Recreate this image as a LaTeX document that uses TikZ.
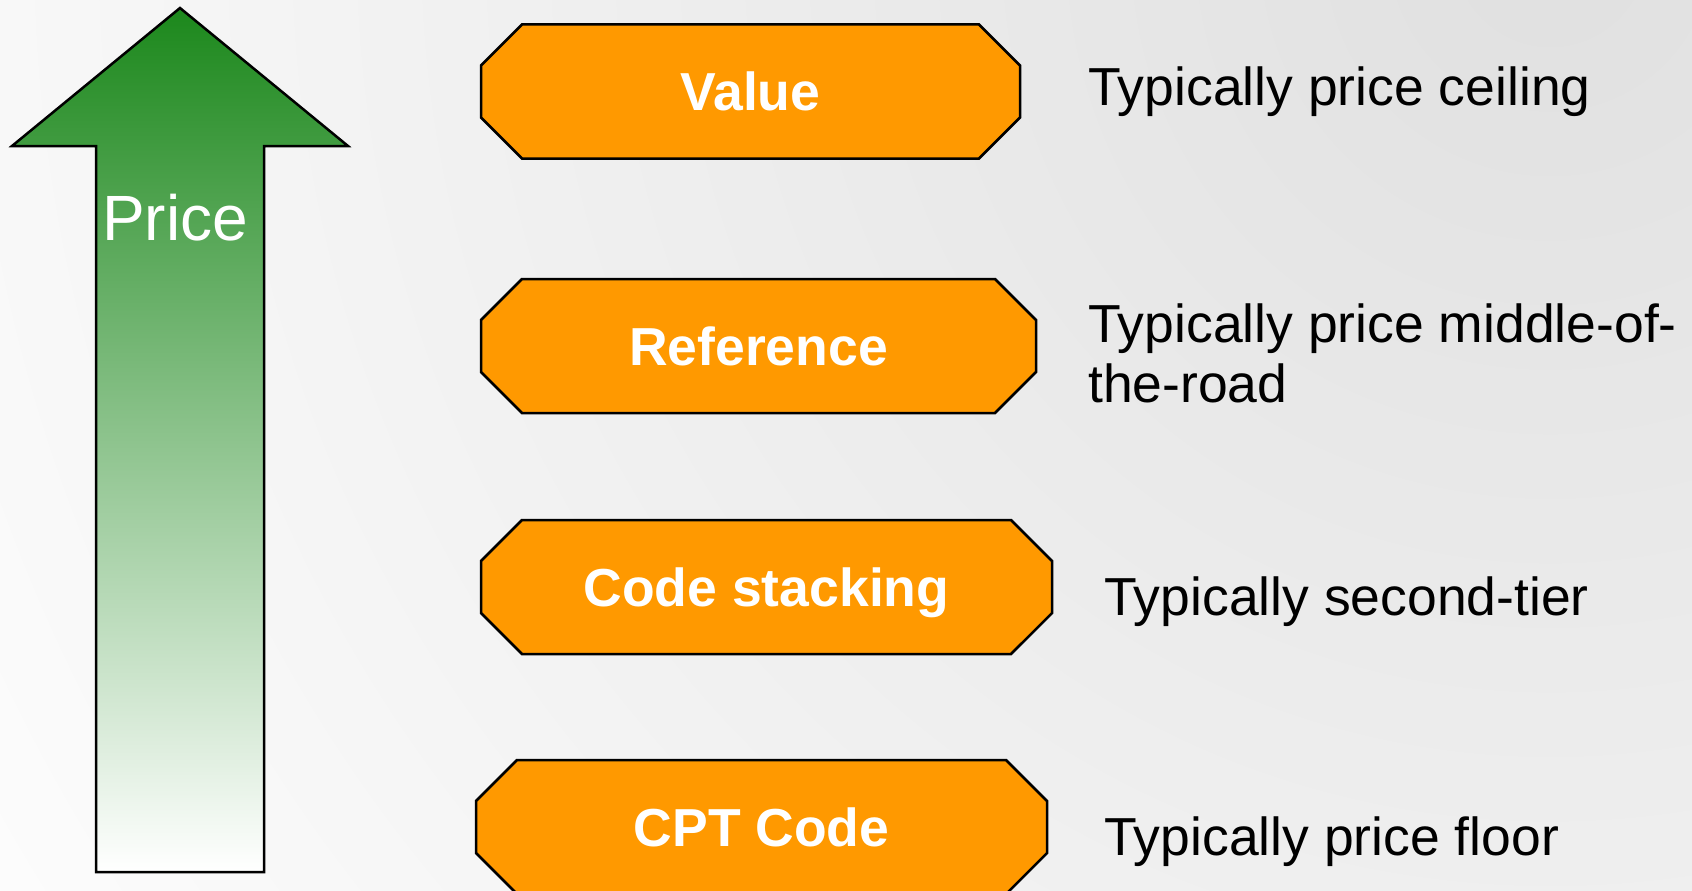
\documentclass[tikz,border=0pt]{standalone}
\usepackage{fontspec}
\setmainfont{Liberation Sans}
\usetikzlibrary{shapes.misc}
\definecolor{pricegreen}{RGB}{28,136,28}
\definecolor{pricemid}{RGB}{196,210,196}
\definecolor{tierorange}{RGB}{255,153,0}
\definecolor{backgray}{RGB}{224,224,224}
\tikzset{
  tier/.style={chamfered rectangle, chamfered rectangle xsep=22pt,
    chamfered rectangle ysep=22pt, draw=black, line width=2.5pt,
    fill=tierorange, text=white, inner sep=0pt, minimum height=134pt,
    text height=38pt, text depth=0pt,
    font=\fontsize{53.5}{60}\selectfont\bfseries},
  remark/.style={anchor=base west, inner sep=0pt, align=left,
    font=\fontsize{53.5}{60}\selectfont},
}
\begin{document}
\begin{tikzpicture}[x=1pt,y=-1pt]
  \useasboundingbox (0,0) rectangle (1692,891);
  \begin{scope}
    \clip (0,0) rectangle (1692,891);
    \fill[white] (0,0) rectangle (1692,891);
    \shade[inner color=backgray, outer color=white] (1550,-50) circle (2000pt);
  \end{scope}

  \shadedraw[top color=pricegreen, middle color=pricemid,
    bottom color=white, line width=2.5pt]
    (180,8) -- (348,146) -- (264,146) -- (264,872) -- (96,872)
    -- (96,146) -- (12,146) -- cycle;
  \node[anchor=base, text=white, inner sep=0pt,
    font=\fontsize{64}{70}\selectfont] (price) at (175,240) {Price};

  \node[tier, minimum width=539pt] (value) at (750.5,91.5) {Value};
  \node[tier, minimum width=555pt] (reference) at (758.5,346) {Reference};
  \node[tier, minimum width=571pt] (stacking) at (766.5,587) {Code stacking};
  \node[tier, minimum width=571pt] (cpt) at (761.5,827) {CPT Code};

  \node[remark] (ceiling) at (1088,105) {Typically price ceiling};
  \node[remark] (middle) at (1088,402) {Typically price middle-of-\\the-road};
  \node[remark] (second) at (1104,615) {Typically second-tier};
  \node[remark] (floor) at (1104,855) {Typically price floor};
\end{tikzpicture}
\end{document}
